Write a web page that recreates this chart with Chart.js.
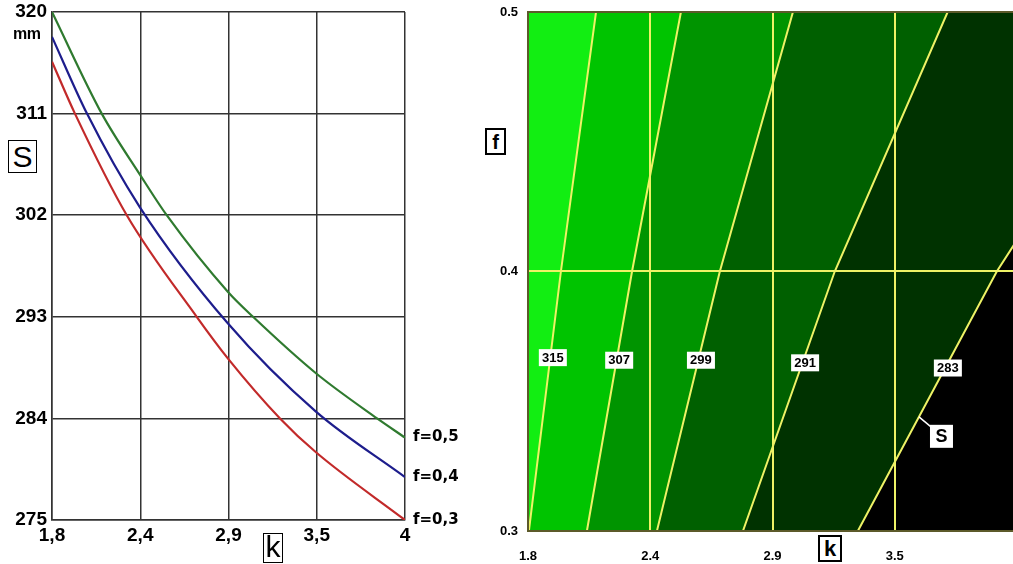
<!DOCTYPE html>
<html><head><meta charset="utf-8">
<script src="https://cdn.jsdelivr.net/npm/chart.js@4.4.0/dist/chart.umd.min.js"></script>
<style>
html,body{margin:0;padding:0;background:#fff;overflow:hidden;width:1013px;height:564px;}
#wrap{position:relative;width:1013px;height:564px;overflow:hidden;background:#fff;}
canvas{position:absolute;top:0;}
.box{position:absolute;box-sizing:border-box;border:1px solid #000;background:#fff;display:flex;align-items:center;justify-content:center;color:#000;font-family:'Liberation Sans',Arial,sans-serif;line-height:1;}
.txt{position:absolute;color:#000;line-height:1;}
</style></head><body><div id="wrap">
<canvas id="left" width="470" height="564" style="left:0px"></canvas>
<canvas id="right" width="570" height="564" style="left:470px"></canvas>
<div class="txt" style="left:13px;top:25px;font:bold 16px 'Liberation Sans',Arial,sans-serif;letter-spacing:-0.5px;">mm</div>
<div class="box" style="left:8px;top:140px;width:29px;height:33px;font-size:30px;">S</div>
<div class="box" style="left:263px;top:533px;width:20px;height:30px;font-size:30px;padding-bottom:3px;">k</div>
<div class="box" style="left:485px;top:128px;width:21px;height:27px;border-width:2px;font-weight:bold;font-size:20px;">f</div>
<div class="box" style="left:818px;top:535px;width:24px;height:27px;border-width:2px;font-weight:bold;font-size:22px;">k</div>
</div>
<script>
// ---------- data ----------
const kTickLabels = ['1,8', '2,4', '2,9', '3,5', '4'];
const kTickLabelsRight = ['1.8', '2.4', '2.9', '3.5', '4'];
const sTickLabels = ['275', '284', '293', '302', '311', '320'];
const fTickLabels = ['0.3', '0.4', '0.5'];
const seriesNames = ['f=0,5', 'f=0,4', 'f=0,3'];

const kF05 = [1.8, 2.110, 2.348, 2.515, 2.897, 3.053, 3.445, 3.826, 4.0];
const sF05 = [320, 311, 305.6, 302, 295.2, 293, 288.0, 284, 282.3];
const kF04 = [1.8, 2.018, 2.348, 2.897, 3.445, 4.0];
const sF04 = [317.8, 311, 302.7, 292.4, 284.6, 278.8];
const kF03 = [1.8, 1.943, 2.266, 2.702, 2.897, 3.221, 3.445, 4.0];
const sF03 = [315.6, 311, 302, 293, 289.3, 284, 281.0, 275];

const contourLevels = ['315', '307', '299', '291', '283'];
const contourF = [0.3, 0.4, 0.5];
const contourK315 = [1.804, 1.948, 2.106];
const contourK307 = [2.065, 2.268, 2.488];
const contourK299 = [2.380, 2.663, 2.992];
const contourK291 = [2.767, 3.180, 3.688];
const contourK283 = [3.284, 3.909, 4.66];
const contourLabelF = [0.367, 0.366, 0.366, 0.365, 0.363];
const sMarkF = 0.344;

// ---------- styles ----------
const seriesColors = ['#2f7a2f', '#1d1d8c', '#c22a2a'];
const regionColors = ['#12ee12', '#00c400', '#009400', '#006000', '#003200', '#000000'];
const yellow = '#eef266';
const olive = '#5c5a2a';
const sans = "'Liberation Sans', Arial, sans-serif";

const kMin = 1.8, kMax = 4;
const sTicks = sTickLabels.map(Number);
const fTicks = fTickLabels.map(Number);
const kTicks = kTickLabels.map((_, i) => kMin + i * (kMax - kMin) / (kTickLabels.length - 1));
const fMin = fTicks[0], fMax = fTicks[fTicks.length - 1];

function fixY(width) {
  return s => { s.width = width; s.paddingTop = 0; s.paddingBottom = 0; };
}

// ---------- left chart ----------
const series = [[kF05, sF05], [kF04, sF04], [kF03, sF03]];
const leftSets = series.map((d, i) => ({
  label: seriesNames[i],
  data: d[0].map((k, j) => ({x: k, y: d[1][j]})),
  borderColor: seriesColors[i], borderWidth: 2.2, pointRadius: 0,
  cubicInterpolationMode: 'monotone', fill: false
}));

const endLabels = {
  id: 'endLabels',
  afterDatasetsDraw(chart) {
    const ctx = chart.ctx;
    ctx.save();
    ctx.font = "bold 15px 'DejaVu Sans', sans-serif";
    ctx.fillStyle = '#000';
    ctx.textBaseline = 'middle';
    ctx.textAlign = 'left';
    chart.data.datasets.forEach((ds, i) => {
      const pts = chart.getDatasetMeta(i).data;
      const p = pts[pts.length - 1];
      ctx.fillText(ds.label, p.x + 8, p.y);
    });
    ctx.restore();
  }
};

new Chart(document.getElementById('left'), {
  type: 'line',
  data: {datasets: leftSets},
  options: {
    responsive: false, animation: false,
    layout: {padding: {top: 12, right: 65, left: 0, bottom: 0}},
    plugins: {legend: {display: false}, tooltip: {enabled: false}},
    scales: {
      x: {
        type: 'linear', min: kMin, max: kMax,
        afterBuildTicks: s => { s.ticks = kTicks.map(v => ({value: v})); },
        afterFit: s => { s.height = 44; },
        grid: {color: '#333', lineWidth: 1.5, drawTicks: false},
        border: {color: '#333', width: 1.5},
        ticks: {padding: 4, color: '#000', font: {family: sans, size: 19, weight: 'bold'},
          callback: (v, i) => kTickLabels[i], maxRotation: 0, autoSkip: false}
      },
      y: {
        type: 'linear', min: sTicks[0], max: sTicks[sTicks.length - 1],
        afterBuildTicks: s => { s.ticks = sTicks.map(v => ({value: v})); },
        afterFit: fixY(52),
        grid: {color: '#333', lineWidth: 1.5, drawTicks: false},
        border: {color: '#333', width: 1.5},
        ticks: {padding: 5, color: '#000', font: {family: sans, size: 19, weight: 'bold'},
          callback: (v, i) => sTickLabels[i], autoSkip: false}
      }
    }
  },
  plugins: [endLabels]
});

// ---------- right chart ----------
const contours = [contourK315, contourK307, contourK299, contourK291, contourK283];
const fillSets = contours.map((ks, i) => ({
  data: ks.map((k, j) => ({x: k, y: contourF[j]})).concat([{x: kMax * 10, y: fMax}]),
  borderColor: 'transparent', borderWidth: 0, pointRadius: 0, tension: 0,
  fill: 'start', backgroundColor: regionColors[i + 1], order: 10 - i
}));
const lineSets = contours.map(ks => ({
  data: ks.map((k, j) => ({x: k, y: contourF[j]})),
  borderColor: yellow, borderWidth: 2, pointRadius: 0, tension: 0, fill: false, order: 0
}));

function kOnContour(ks, f) {
  for (let j = 0; j < contourF.length - 1; j++) {
    if (f <= contourF[j + 1] || j === contourF.length - 2) {
      const t = (f - contourF[j]) / (contourF[j + 1] - contourF[j]);
      return ks[j] + t * (ks[j + 1] - ks[j]);
    }
  }
}

const areaBg = {
  id: 'areaBg',
  beforeDatasetsDraw(chart) {
    const a = chart.chartArea, ctx = chart.ctx;
    ctx.save();
    ctx.fillStyle = regionColors[0];
    ctx.fillRect(a.left, a.top, a.right - a.left, a.bottom - a.top);
    ctx.restore();
  }
};

const contourLabels = {
  id: 'contourLabels',
  afterDraw(chart) {
    const ctx = chart.ctx, xs = chart.scales.x, ys = chart.scales.y;
    ctx.save();
    ctx.font = "bold 13px " + sans;
    ctx.textAlign = 'center';
    ctx.textBaseline = 'middle';
    contours.forEach((ks, i) => {
      const f = contourLabelF[i];
      const px = xs.getPixelForValue(kOnContour(ks, f)) + 2;
      const py = ys.getPixelForValue(f);
      ctx.fillStyle = '#fff';
      ctx.fillRect(px - 13.5, py - 8, 28, 17);
      ctx.fillStyle = '#000';
      ctx.fillText(contourLevels[i], px + 0.5, py + 1);
    });
    // S marker on the lowest contour
    const last = contours[contours.length - 1];
    const mx = xs.getPixelForValue(kOnContour(last, sMarkF));
    const my = ys.getPixelForValue(sMarkF);
    ctx.strokeStyle = '#fff';
    ctx.lineWidth = 1.5;
    ctx.beginPath();
    ctx.moveTo(mx, my);
    ctx.lineTo(mx + 12, my + 10);
    ctx.stroke();
    ctx.fillStyle = '#fff';
    ctx.fillRect(mx + 11, my + 8, 23, 23);
    ctx.fillStyle = '#000';
    ctx.font = "bold 18px " + sans;
    ctx.fillText('S', mx + 22.5, my + 20.5);
    ctx.restore();
  }
};

new Chart(document.getElementById('right'), {
  type: 'line',
  data: {datasets: fillSets.concat(lineSets)},
  options: {
    responsive: false, animation: false,
    layout: {padding: {top: 12, right: 23, left: 0, bottom: 0}},
    plugins: {legend: {display: false}, tooltip: {enabled: false}},
    scales: {
      x: {
        type: 'linear', min: kMin, max: kMax,
        afterBuildTicks: s => { s.ticks = kTicks.map(v => ({value: v})); },
        afterFit: s => { s.height = 33; },
        grid: {color: yellow, lineWidth: 2, drawTicks: false, z: 1},
        border: {color: olive, width: 2, z: 2},
        ticks: {padding: 18, color: '#000', font: {family: sans, size: 13, weight: 'bold'},
          callback: (v, i) => kTickLabelsRight[i], maxRotation: 0, autoSkip: false}
      },
      y: {
        type: 'linear', min: fMin, max: fMax,
        afterBuildTicks: s => { s.ticks = fTicks.map(v => ({value: v})); },
        afterFit: fixY(58),
        grid: {color: c => (c.tick && c.tick.value === fMax) ? olive : yellow, lineWidth: 2, drawTicks: false, z: 1},
        border: {color: olive, width: 2, z: 2},
        ticks: {padding: 10, color: '#000', font: {family: sans, size: 13, weight: 'bold'},
          callback: (v, i) => fTickLabels[i], autoSkip: false}
      }
    }
  },
  plugins: [areaBg, contourLabels]
});
</script>
</body></html>
